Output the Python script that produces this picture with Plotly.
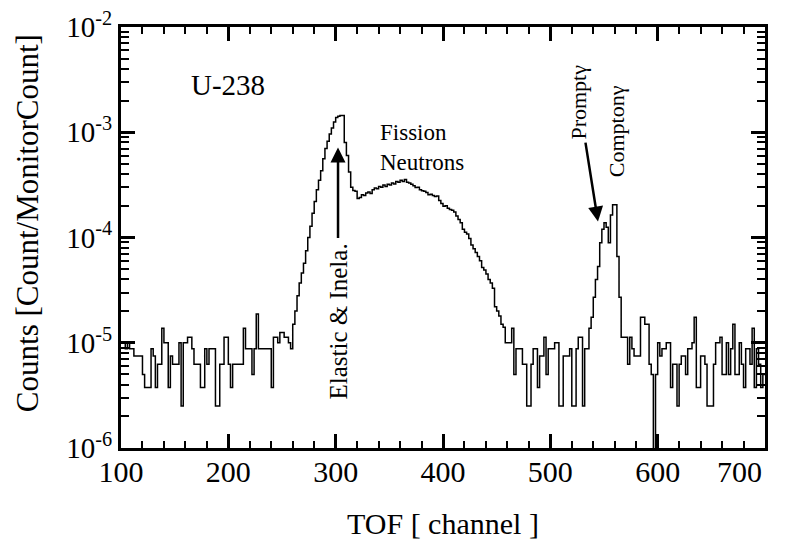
import plotly.graph_objects as go

# ---------------- data ----------------
CHANNEL_START = 100      # first TOF channel shown
CHANNEL_WIDTH = 2        # channels per histogram bin
CHANNEL_END = 700

# Counts per monitor count, in units of 1e-6, one value per 2-channel bin (100..698)
counts_e6_100_198 = [
    10, 10, 8.75, 10, 8.75, 8.75, 7.5, 7.5, 7.5, 7.5,
    5, 3.75, 3.75, 3.75, 8.75, 7.5, 3.75, 6.25, 6.25, 13.75,
    10, 10, 3.75, 7.5, 6.25, 6.25, 6.25, 10, 2.5, 10,
    10, 11.25, 11.25, 8.75, 6.25, 6.25, 6.25, 3.75, 3.75, 8.75,
    6.25, 8.75, 8.75, 8.75, 2.5, 2.5, 6.25, 6.25, 11.25, 11.25,
]
counts_e6_200_298 = [
    6.25, 3.75, 6.25, 6.25, 6.25, 6.25, 6.25, 13.75, 8.75, 8.75,
    8.75, 5, 8.75, 18.75, 8.75, 8.75, 8.75, 8.75, 8.75, 8.75,
    3.75, 11.25, 11.25, 10, 12.5, 12.5, 11.25, 11.25, 10, 8.75,
    15, 20, 28, 37, 46, 57, 75, 100, 128, 170,
    220, 285, 350, 430, 560, 700, 820, 960, 1100, 1250,
]
counts_e6_300_398 = [
    1380, 1420, 1440, 1440, 800, 600, 420, 300, 280, 275,
    235, 240, 255, 250, 265, 270, 262, 285, 295, 290,
    305, 300, 315, 305, 320, 315, 330, 322, 340, 335,
    350, 340, 355, 335, 330, 320, 310, 298, 300, 285,
    278, 275, 268, 255, 258, 250, 245, 248, 225, 210,
]
counts_e6_400_498 = [
    198, 200, 190, 185, 182, 175, 160, 148, 138, 120,
    112, 108, 98, 85, 78, 72, 66, 60, 52, 49,
    45, 40, 37, 33, 22, 20, 18, 15, 14, 10,
    10, 10, 13.75, 5, 8.75, 8.75, 8.75, 6.25, 6.25, 2.5,
    2.5, 6.25, 8.75, 8.75, 3.75, 7.5, 7.5, 11.25, 5, 8.75,
]
counts_e6_500_598 = [
    8.75, 8.75, 10, 10, 2.5, 2.5, 7.5, 7.5, 7.5, 8.75,
    2.5, 2.5, 8.75, 11.25, 11.25, 2.5, 8.75, 8.75, 13.75, 17.5,
    27, 40, 53, 89, 120, 138, 125, 89, 164, 205,
    205, 66, 27, 11.25, 11.25, 11.25, 6.25, 11.25, 8.75, 7.5,
    7.5, 7.5, 17.5, 17.5, 15, 15, 6.25, 5, 0, 5,
]
counts_e6_600_698 = [
    10, 7.5, 8.75, 8.75, 10, 10, 3.75, 6.25, 6.25, 2.5,
    6.25, 7.5, 7.5, 5, 8.75, 8.75, 10, 17.5, 3.75, 3.75,
    7.5, 7.5, 6.25, 2.5, 2.5, 2.5, 6.25, 10, 10, 11.25,
    5, 5, 10, 5, 8.75, 15, 5, 5, 10, 6.25,
    3.75, 8.75, 8.75, 6.25, 13.75, 3.75, 8.75, 6.25, 3.75, 5,
]

X_TICKS = [100, 200, 300, 400, 500, 600]   # the "700" label sits left of its tick
X_LAST_LABEL = "700"
Y_TICKS = [1e-6, 1e-5, 1e-4, 1e-3, 1e-2]
Y_TICK_TEXT = ["10<sup>-6</sup>", "10<sup>-5</sup>", "10<sup>-4</sup>",
               "10<sup>-3</sup>", "10<sup>-2</sup>"]

# ---------------- build the step histogram ----------------
counts_e6 = (counts_e6_100_198 + counts_e6_200_298 + counts_e6_300_398 +
             counts_e6_400_498 + counts_e6_500_598 + counts_e6_600_698)
bin_left = list(range(CHANNEL_START, CHANNEL_END, CHANNEL_WIDTH))
# empty bins go below the visible log range so the line drops to the axis
y_vals = [v * 1e-6 if v > 0 else 1e-9 for v in counts_e6]
x_step = bin_left + [CHANNEL_END]
y_step = y_vals + [y_vals[-1]]

minor_y = [m * 10.0 ** e for e in range(-6, -2) for m in range(2, 10)]

FONT = "Liberation Serif"

fig = go.Figure()
fig.add_trace(go.Scatter(
    x=x_step, y=y_step, mode="lines",
    line=dict(color="black", width=1.5, shape="hv"),
    showlegend=False, hoverinfo="skip",
))

# page body has an 8px default margin, so the figure is 8px smaller than the window
fig.update_layout(
    width=784, height=543,
    margin=dict(l=113, r=27, t=19, b=103, autoexpand=False),
    paper_bgcolor="white", plot_bgcolor="white",
    font=dict(family=FONT, color="black"),
    showlegend=False,
)

fig.update_xaxes(
    range=[CHANNEL_START, CHANNEL_END], automargin=False,
    tickmode="array", tickvals=X_TICKS, ticktext=[str(t) for t in X_TICKS],
    ticks="inside", ticklen=14, tickwidth=2.5, tickcolor="black",
    showline=True, linewidth=3, linecolor="black", mirror="ticks",
    showgrid=False, zeroline=False, ticklabeloverflow="allow",
    ticklabelstandoff=-5,
    tickfont=dict(family=FONT, size=30, color="black"),
    minor=dict(ticks="inside", ticklen=7, tickwidth=2, tickcolor="black",
               tickmode="linear", tick0=100, dtick=20, showgrid=False),
)

fig.update_yaxes(
    type="log", range=[-6, -2], automargin=False,
    tickmode="array", tickvals=Y_TICKS, ticktext=Y_TICK_TEXT,
    ticks="inside", ticklen=14, tickwidth=2.5, tickcolor="black",
    showline=True, linewidth=3, linecolor="black", mirror="ticks",
    showgrid=False, zeroline=False, ticklabeloverflow="allow",
    tickfont=dict(family=FONT, size=29, color="black"),
    minor=dict(ticks="inside", ticklen=8, tickwidth=2, tickcolor="black",
               tickmode="array", tickvals=minor_y, showgrid=False),
)

ann = []
# last x tick label, placed inside the page like in the reference
ann.append(dict(text=X_LAST_LABEL, xref="paper", yref="paper",
                x=0.961, y=-0.057, xanchor="center", yanchor="middle",
                showarrow=False, font=dict(family=FONT, size=30)))
# axis titles
ann.append(dict(text="Counts [Count/MonitorCount]", xref="paper", yref="paper",
                x=-0.146, y=0.534, xanchor="center", yanchor="middle",
                textangle=-90, showarrow=False, font=dict(family=FONT, size=31)))
ann.append(dict(text="TOF [ channel ]", xref="paper", yref="paper",
                x=0.5, y=-0.1805, xanchor="center", yanchor="middle",
                showarrow=False, font=dict(family=FONT, size=30)))
# labels inside the plot (y given as log10 value on the log axis)
ann.append(dict(text="U-238", x=199.7, y=-2.547, xanchor="center", yanchor="middle",
                showarrow=False, font=dict(family=FONT, size=29)))
ann.append(dict(text="Fission<br>Neutrons", x=339.5, y=-3.145, xanchor="left",
                yanchor="middle", align="left", showarrow=False,
                font=dict(family=FONT, size=23)))
# rotated label with its arrow pointing up to the elastic peak
ann.append(dict(text="Elastic &amp; Inela.", x=302.2, y=-3.145,
                axref="pixel", ayref="pixel", ax=0, ay=174,
                textangle=-90, showarrow=True, arrowhead=2, arrowsize=1.2,
                arrowwidth=2.5, arrowcolor="black", standoff=0, startstandoff=4,
                font=dict(family=FONT, size=25)))
# "Promptγ" label with its arrow pointing down to the prompt gamma peak
ann.append(dict(text="Promptγ", x=544.4, y=-3.849,
                axref="pixel", ayref="pixel", ax=-19, ay=-120,
                textangle=-90, showarrow=True, arrowhead=2, arrowsize=1.2,
                arrowwidth=2.5, arrowcolor="black", standoff=0, startstandoff=2,
                font=dict(family=FONT, size=22)))
ann.append(dict(text="Comptonγ", x=561.2, y=-2.99, xanchor="center", yanchor="middle",
                textangle=-90, showarrow=False, font=dict(family=FONT, size=22)))
fig.update_layout(annotations=ann)

fig.write_html("out.html")
